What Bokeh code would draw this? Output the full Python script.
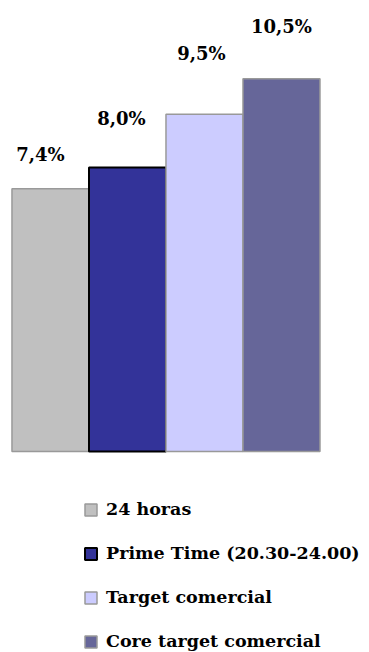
from bokeh.plotting import figure
from bokeh.models import ColumnDataSource, Legend, LegendItem, Range1d
from bokeh.core.properties import value
from bokeh.embed import file_html
from bokeh.resources import INLINE

# data
categories = ["24 horas", "Prime Time (20.30-24.00)", "Target comercial", "Core target comercial"]
shares = [7.4, 8.0, 9.5, 10.5]
labels = ["7,4%", "8,0%", "9,5%", "10,5%"]

# styles
FONT = "DejaVu Serif"
colors = ["#C0C0C0", "#333399", "#CCCCFF", "#666699"]
outline = ["#999999", "#000000", "#999999", "#999999"]
outline_w = [1.5, 2.0, 1.5, 1.5]
label_dx = [-10, -6, -3, 0]
label_dy = [-34, -49, -61, -52]

src = ColumnDataSource(dict(
    x=list(range(len(categories))), top=shares, cat=categories, lab=labels,
    color=colors, lc=outline, lw=outline_w, dx=label_dx, dy=label_dy,
))

p = figure(width=369, height=652, output_backend="svg", toolbar_location=None,
           min_border=0, x_range=Range1d(-0.649, 4.143), y_range=Range1d(-5.662, 12.704))
p.axis.visible = False
p.grid.visible = False
p.outline_line_color = None

r = p.vbar(x="x", top="top", bottom=0, width=1.0, source=src,
           fill_color="color", line_color="lc", line_width="lw")

p.text(x="x", y="top", text="lab", source=src, x_offset="dx", y_offset="dy",
       text_font=value(FONT), text_font_style="bold",
       text_font_size="18px", text_align="center", text_baseline="middle",
       text_color="#000000")

items = [LegendItem(label=c, renderers=[r], index=i) for i, c in enumerate(categories)]
legend = Legend(items=items, location=(83, 1), orientation="vertical",
                label_text_font=FONT, label_text_font_style="bold",
                label_text_font_size="17.5px", label_text_color="#000000",
                glyph_width=15, glyph_height=15, label_height=20, spacing=24,
                label_standoff=8, padding=0, margin=0,
                border_line_alpha=0, background_fill_alpha=0)
p.add_layout(legend)

open("out.html", "w").write(file_html(p, INLINE))
